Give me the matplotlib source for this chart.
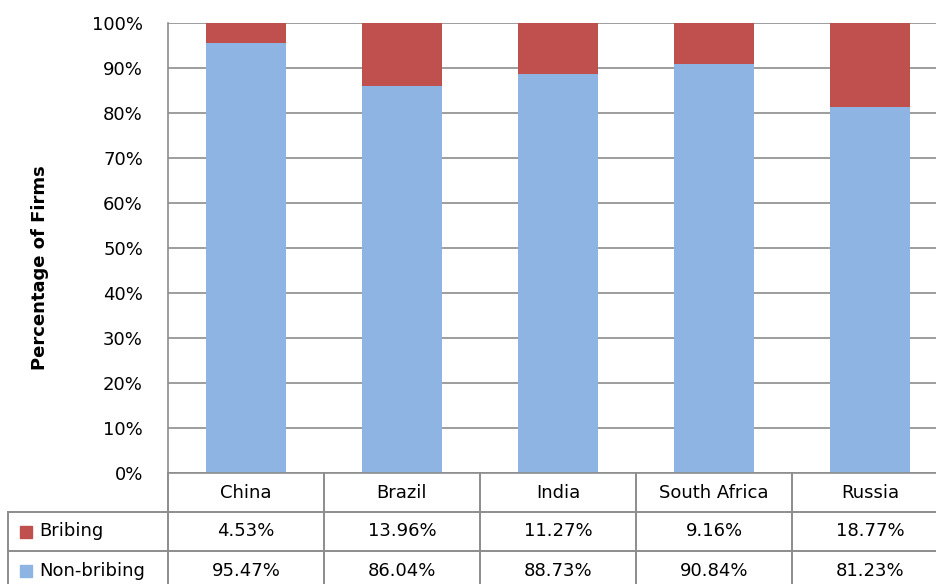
import matplotlib.pyplot as plt
from matplotlib.ticker import PercentFormatter

# data
countries = ["China", "Brazil", "India", "South Africa", "Russia"]
bribing = [4.53, 13.96, 11.27, 9.16, 18.77]
non_bribing = [95.47, 86.04, 88.73, 90.84, 81.23]
series_names = ["Bribing", "Non-bribing"]

RED = "#C0504D"
BLUE = "#8EB4E3"
GRID = "#8c8c8c"
FS = 13

plt.rcParams["font.family"] = ["DejaVu Sans"]

fig = plt.figure(figsize=(9.36, 5.84), dpi=100)
W, H = 936, 584
ax = fig.add_axes([168 / W, 1 - 473 / H, 780 / W, 450 / H])

x = list(range(len(countries)))
ax.bar(x, non_bribing, width=0.51, color=BLUE, zorder=2)
ax.bar(x, bribing, bottom=non_bribing, width=0.51, color=RED, zorder=2)

ax.set_xlim(-0.5, len(countries) - 0.5)
ax.set_ylim(0, 100)
ax.set_yticks(range(0, 101, 10))
ax.yaxis.set_major_formatter(PercentFormatter(decimals=0))
ax.tick_params(axis="y", length=0, labelsize=FS, pad=18)
ax.set_xticks([])
ax.grid(axis="y", color=GRID, linewidth=1.2, zorder=0)
for side in ["top", "right"]:
    ax.spines[side].set_visible(False)
for side in ["left", "bottom"]:
    ax.spines[side].set_color(GRID)
    ax.spines[side].set_linewidth(1.2)

fig.text(40 / W, 1 - 268 / H, "Percentage of Firms", rotation=90,
         ha="center", va="center", fontsize=13, fontweight="bold")

# data table under the bars
tr = ax.get_xaxis_transform()
row_h = 39 / 450
x_left = -0.5 - 160 / 156
x_right = len(countries) - 0.5
line_kw = dict(color=GRID, linewidth=1.4, transform=tr, clip_on=False)

for xi in range(len(countries) + 1):
    ax.plot([xi - 0.5, xi - 0.5], [0, -3 * row_h], **line_kw)
ax.plot([x_left, x_left], [-row_h, -3 * row_h], **line_kw)
for r in (1, 2):
    ax.plot([x_left, x_right], [-r * row_h, -r * row_h], **line_kw)

for xi, name in zip(x, countries):
    ax.text(xi, -0.5 * row_h, name, ha="center", va="center", fontsize=FS,
            transform=tr, clip_on=False)

rows = [bribing, non_bribing]
colors = [RED, BLUE]
for r, (vals, label, col) in enumerate(zip(rows, series_names, colors)):
    yc = -(r + 1.5) * row_h
    ax.plot([-0.5 - 142 / 156], [yc], marker="s", markersize=8.5, color=col,
            transform=tr, clip_on=False)
    ax.text(-0.5 - 129 / 156, yc, label, ha="left", va="center", fontsize=FS,
            transform=tr, clip_on=False)
    for xi, v in zip(x, vals):
        ax.text(xi, yc, f"{v:.2f}%", ha="center", va="center", fontsize=FS,
                transform=tr, clip_on=False)

fig.savefig("out.png", dpi=100)
